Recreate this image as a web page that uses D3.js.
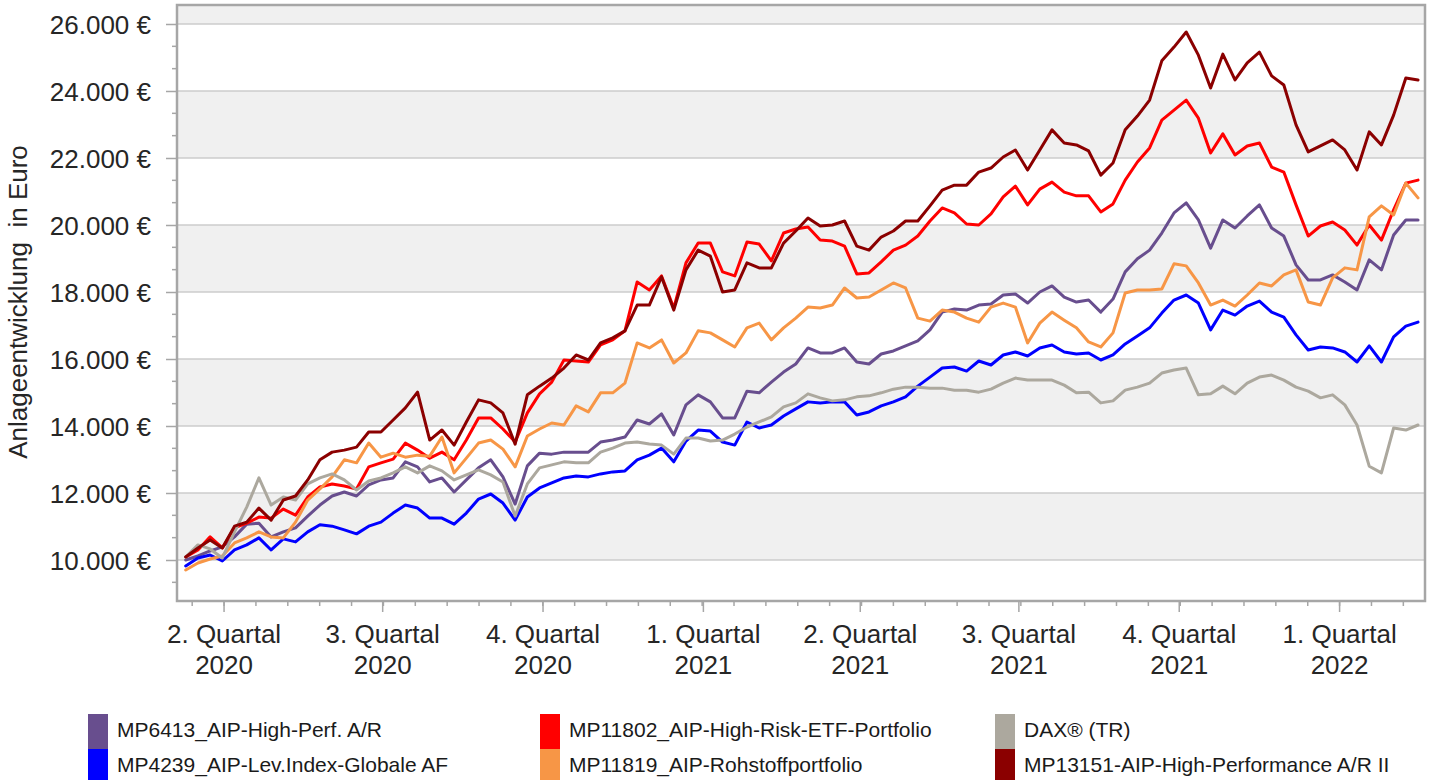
<!DOCTYPE html>
<html><head><meta charset="utf-8">
<script src="https://cdn.jsdelivr.net/npm/d3@7"></script>
<style>
body{margin:0;background:#fff}
svg{display:block;font-family:"Liberation Sans",Arial,Helvetica,sans-serif}
</style>
</head><body>
<svg id="chart" width="1433" height="780"></svg>
<script>
// ---------- DATA ----------
const startDate = "2020-03-10";   // first weekly observation
const stepDays = 7;                // weekly observations

const seriesNames = [
  "MP6413_AIP-High-Perf. A/R",
  "MP4239_AIP-Lev.Index-Globale AF",
  "MP11802_AIP-High-Risk-ETF-Portfolio",
  "MP11819_AIP-Rohstoffportfolio",
  "DAX® (TR)",
  "MP13151-AIP-High-Performance A/R II"
];
const seriesColors = ["#684e8e", "#0000ff", "#ff0000", "#f79646", "#aca89e", "#8b0000"];

const mp6413 = [10000,10120,10270,10390,10690,11070,11100,10690,10840,10960,
11310,11640,11910,12030,11910,12240,12390,12450,12930,12780,
12330,12450,12030,12390,12750,12990,12480,11670,12810,13190,
13160,13220,13220,13220,13520,13580,13670,14180,14060,14360,
13730,14630,14930,14720,14240,14240,15040,14990,15310,15610,
15850,16330,16180,16180,16330,15910,15850,16150,16240,16390,
16540,16870,17400,17490,17460,17610,17640,17910,17940,17670,
18000,18180,17850,17700,17760,17400,17790,18600,18990,19250,
19760,20360,20660,20150,19310,20150,19910,20270,20600,19910,
19670,18810,18360,18360,18510,18300,18060,18960,18660,19700,
20150,20150];

const mp4239 = [9820,10060,10150,9970,10300,10450,10660,10300,10630,10540,
10840,11050,11010,10900,10780,11010,11130,11400,11640,11550,
11250,11250,11070,11400,11820,11970,11700,11190,11880,12150,
12300,12450,12510,12480,12570,12630,12660,12990,13130,13340,
12930,13550,13880,13850,13520,13430,14120,13940,14030,14300,
14510,14720,14690,14720,14720,14330,14420,14600,14720,14870,
15190,15460,15730,15760,15640,15940,15820,16120,16210,16090,
16330,16420,16210,16150,16180,15970,16120,16450,16690,16930,
17370,17760,17910,17670,16870,17460,17310,17580,17730,17400,
17250,16720,16270,16360,16330,16210,15910,16390,15910,16660,
16980,17100];

const mp11802 = [10090,10300,10690,10360,10960,11100,11280,11250,11520,11340,
11880,12180,12270,12210,12120,12780,12900,13010,13490,13280,
13040,13220,12990,13580,14240,14240,13910,13520,14390,14960,
15310,15970,15940,15910,16420,16570,16840,18300,18060,18480,
17520,18870,19460,19460,18600,18480,19490,19430,18930,19760,
19880,19940,19550,19520,19370,18540,18570,18900,19250,19400,
19670,20120,20510,20360,20030,20000,20330,20840,21160,20600,
21070,21280,20980,20870,20870,20390,20630,21340,21880,22300,
23130,23430,23730,23190,22150,22720,22090,22360,22450,21730,
21580,20600,19670,19970,20090,19850,19400,20000,19550,20450,
21250,21340];

const mp11819 = [9700,9910,10030,10120,10510,10660,10840,10690,10660,11130,
11790,12120,12480,12990,12900,13490,13070,13190,13070,13130,
13100,13670,12600,13040,13490,13580,13310,12780,13700,13910,
14090,14030,14600,14420,14990,14990,15280,16480,16330,16570,
15880,16180,16840,16780,16570,16360,16930,17070,16570,16930,
17220,17550,17520,17610,18120,17820,17850,18060,18270,18120,
17220,17130,17460,17400,17220,17100,17550,17670,17550,16480,
17070,17400,17160,16930,16510,16360,16780,17970,18060,18060,
18090,18840,18780,18270,17610,17760,17580,17910,18270,18180,
18510,18660,17700,17610,18420,18720,18660,20240,20570,20300,
21250,20810];

const daxTR = [10090,10450,10330,10060,10840,11580,12450,11640,11880,11790,
12270,12450,12570,12390,12090,12360,12450,12600,12780,12600,
12810,12660,12390,12540,12690,12540,12330,11310,12270,12750,
12840,12930,12900,12900,13220,13340,13490,13520,13460,13430,
13160,13640,13640,13550,13580,13760,13970,14120,14270,14570,
14690,14960,14840,14750,14780,14870,14900,14990,15100,15160,
15160,15130,15130,15070,15070,15010,15100,15280,15430,15370,
15370,15370,15220,14990,15010,14690,14750,15070,15160,15280,
15580,15670,15730,14930,14960,15190,14960,15280,15460,15520,
15370,15160,15040,14840,14930,14630,14030,12800,12600,13940,
13880,14030];

const mp13151 = [10090,10360,10600,10360,11010,11130,11550,11190,11790,11910,
12390,12990,13220,13280,13370,13820,13820,14180,14540,15010,
13580,13880,13430,14120,14780,14690,14390,13460,14930,15190,
15430,15730,16120,15970,16480,16630,16840,17610,17610,18450,
17460,18660,19250,19070,18000,18060,18870,18720,18720,19460,
19820,20210,19970,20000,20120,19370,19250,19640,19820,20120,
20120,20570,21040,21190,21190,21580,21700,22030,22240,21640,
22240,22840,22450,22390,22210,21490,21850,22840,23250,23730,
24900,25310,25760,25070,24090,25100,24330,24840,25160,24450,
24180,22990,22180,22360,22540,22240,21640,22780,22390,23280,
24390,24330];

const seriesValues = [mp6413, mp4239, mp11802, mp11819, daxTR, mp13151];

const yTickValues = [10000,12000,14000,16000,18000,20000,22000,24000,26000];
const quarterDates = ["2020-04-01","2020-07-01","2020-10-01","2021-01-01","2021-04-01","2021-07-01","2021-10-01","2022-01-01"];
const quarterLabels = [["2. Quartal","2020"],["3. Quartal","2020"],["4. Quartal","2020"],["1. Quartal","2021"],
                       ["2. Quartal","2021"],["3. Quartal","2021"],["4. Quartal","2021"],["1. Quartal","2022"]];
const xDomain = ["2020-03-05","2022-02-19"];
const yDomain = [8776, 26567];
const yAxisTitle = "Anlageentwicklung\u00a0 in Euro";

// ---------- LAYOUT ----------
const plot = {left:177, right:1425, top:5, bottom:601};
const svg = d3.select("#chart");
const parse = d3.timeParse("%Y-%m-%d");
const x = d3.scaleTime().domain(xDomain.map(parse)).range([plot.left, plot.right]);
const y = d3.scaleLinear().domain(yDomain).range([plot.bottom, plot.top]);
const de = d3.formatLocale({decimal:",", thousands:".", grouping:[3], currency:["","€"]});
const fmt = de.format(",.0f");
const dates = mp6413.map((_, i) => d3.timeDay.offset(parse(startDate), i * stepDays));

// background bands
for (let v = 8000; v < 28000; v += 2000) {
  if ((v / 2000) % 2 === 1) {
    const lo = Math.max(v, yDomain[0]), hi = Math.min(v + 2000, yDomain[1]);
    if (hi > lo) svg.append("rect").attr("x", plot.left).attr("width", plot.right - plot.left)
      .attr("y", y(hi)).attr("height", y(lo) - y(hi)).attr("fill", "#f0f0f0");
  }
}
// gridlines
svg.append("g").selectAll("line").data(yTickValues).join("line")
  .attr("x1", plot.left).attr("x2", plot.right)
  .attr("y1", d => y(d)).attr("y2", d => y(d))
  .attr("stroke", "#cccccc").attr("stroke-width", 1.5);

// lines
svg.append("clipPath").attr("id", "clip").append("rect")
  .attr("x", plot.left).attr("y", plot.top).attr("width", plot.right - plot.left).attr("height", plot.bottom - plot.top);
const line = d3.line().x((d, i) => x(dates[i])).y(d => y(d));
svg.append("g").attr("clip-path", "url(#clip)").selectAll("path").data(seriesValues).join("path")
  .attr("d", d => line(d)).attr("fill", "none")
  .attr("stroke", (d, i) => seriesColors[i]).attr("stroke-width", 3)
  .attr("stroke-linejoin", "round").attr("stroke-linecap", "round");

// border
svg.append("rect").attr("x", plot.left).attr("y", plot.top)
  .attr("width", plot.right - plot.left).attr("height", plot.bottom - plot.top)
  .attr("fill", "none").attr("stroke", "#a6a6a6").attr("stroke-width", 2.5);

// y axis
const yAxis = svg.append("g").attr("transform", `translate(${plot.left},0)`)
  .call(d3.axisLeft(y).tickValues(yTickValues).tickSize(11).tickPadding(15).tickFormat(d => fmt(d) + " €"));
yAxis.select(".domain").remove();
yAxis.selectAll(".tick line").attr("stroke", "#a6a6a6").attr("stroke-width", 1.5);
yAxis.selectAll(".tick text").attr("font-size", 26).attr("fill", "#262626")
  .attr("font-family", "'Liberation Sans',Arial,sans-serif").attr("dy", "0.36em");
const yMinor = d3.range(yTickValues[0] - 2000 / 3, yDomain[1], 2000 / 3).filter(v => v > yDomain[0] && !yTickValues.some(t => Math.abs(t - v) < 1));
svg.append("g").selectAll("line").data(yMinor).join("line")
  .attr("x1", plot.left - 5).attr("x2", plot.left).attr("y1", d => y(d)).attr("y2", d => y(d))
  .attr("stroke", "#a6a6a6").attr("stroke-width", 1.5);

// x axis ticks
const qx = quarterDates.map(d => x(parse(d)));
const qStep = (qx[qx.length - 1] - qx[0]) / (qx.length - 1) / 5;
const minorX = d3.range(-1, (qx.length - 1) * 5 + 3).map(k => qx[0] + k * qStep)
  .filter((p, k) => p > plot.left + 2 && p < plot.right - 2);
svg.append("g").selectAll("line").data(minorX).join("line")
  .attr("x1", d => d).attr("x2", d => d).attr("y1", plot.bottom).attr("y2", plot.bottom + 5)
  .attr("stroke", "#a6a6a6").attr("stroke-width", 1.5);
svg.append("g").selectAll("line").data(qx).join("line")
  .attr("x1", d => d).attr("x2", d => d).attr("y1", plot.bottom).attr("y2", plot.bottom + 11)
  .attr("stroke", "#a6a6a6").attr("stroke-width", 1.5);
const xl = svg.append("g").selectAll("text").data(quarterLabels).join("text")
  .attr("text-anchor", "middle").attr("font-size", 26).attr("fill", "#262626");
xl.append("tspan").attr("x", (d, i) => qx[i]).attr("y", 643).text(d => d[0]);
xl.append("tspan").attr("x", (d, i) => qx[i]).attr("y", 674).text(d => d[1]);

// y title
svg.append("text").attr("transform", "translate(27,302) rotate(-90)")
  .attr("text-anchor", "middle").attr("font-size", 26).attr("fill", "#262626").text(yAxisTitle);

// legend (column-major: 2 rows, 3 columns)
const legX = [88, 540, 995], legY = [714, 749];
const leg = svg.append("g").selectAll("g").data(seriesNames).join("g")
  .attr("transform", (d, i) => `translate(${legX[Math.floor(i / 2)]},${legY[i % 2]})`);
leg.append("rect").attr("width", 20).attr("height", 35).attr("fill", (d, i) => seriesColors[i]);
leg.append("text").attr("x", 29).attr("y", 23).attr("font-size", 21).attr("fill", "#1a1a1a").text(d => d);
</script>
</body></html>
